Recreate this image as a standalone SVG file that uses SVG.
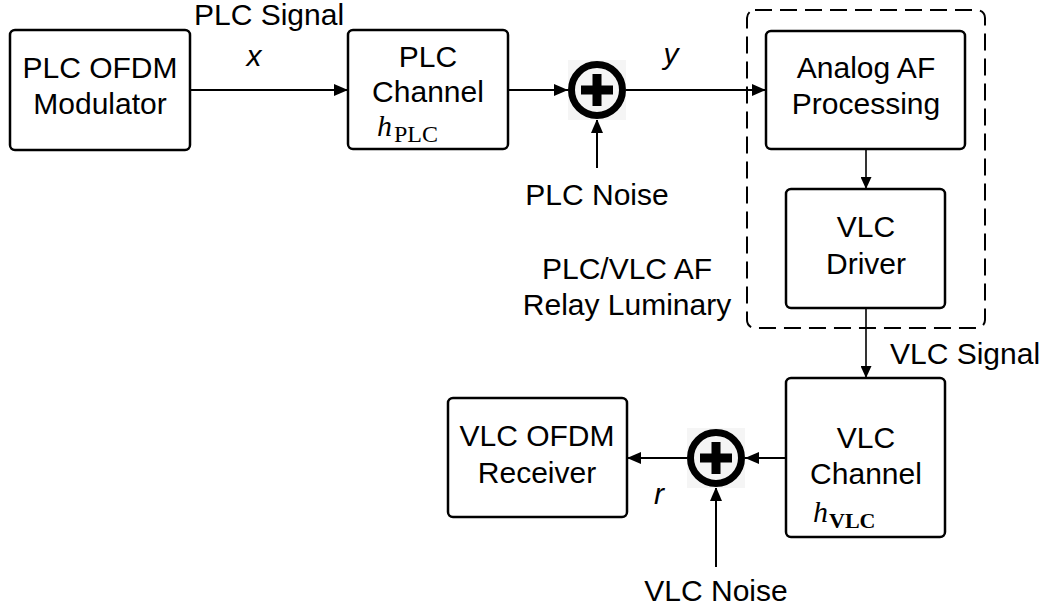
<svg xmlns="http://www.w3.org/2000/svg" width="1047" height="609" viewBox="0 0 1047 609">
<defs>
<marker id="ah" markerWidth="14" markerHeight="12" refX="14" refY="6" orient="auto" markerUnits="userSpaceOnUse">
<path d="M0,0 L14,6 L0,12 Z" fill="#000"/>
</marker>
<marker id="ahs" markerWidth="12" markerHeight="11" refX="12" refY="5.5" orient="auto" markerUnits="userSpaceOnUse">
<path d="M0,0 L12,5.5 L0,11 Z" fill="#000"/>
</marker>
</defs>
<style>
.box{fill:#fff;stroke:#000;stroke-width:2.5}
.t{font-family:"Liberation Sans",Arial,sans-serif;font-size:30px;fill:#000;text-anchor:middle}
.i{font-family:"Liberation Sans",Arial,sans-serif;font-size:30px;font-style:italic;fill:#000;text-anchor:middle}
.m{font-family:"Liberation Serif","Times New Roman",serif;fill:#000}
.c{stroke:#000;stroke-width:2;fill:none}
.sum{fill:none;stroke:#000;stroke-width:7}
.plus{fill:#000}
</style>
<rect width="1047" height="609" fill="#fff"/>

<g id="relay-group">
<rect x="747" y="10" width="238" height="318" rx="8" fill="none" stroke="#000" stroke-width="2" stroke-dasharray="17,8"/>
<text class="t" x="627" y="279">PLC/VLC AF</text>
<text class="t" x="627" y="315">Relay Luminary</text>
</g>

<g id="connectors">
<line class="c" x1="190" y1="90" x2="348" y2="90" marker-end="url(#ah)"/>
<line class="c" x1="508" y1="90" x2="568" y2="90" marker-end="url(#ah)"/>
<line class="c" x1="597" y1="168" x2="597" y2="119" marker-end="url(#ah)"/>
<line class="c" x1="626" y1="90" x2="766" y2="90" marker-end="url(#ah)"/>
<line x1="866" y1="149" x2="866" y2="189" stroke="#000" stroke-width="1.6" marker-end="url(#ahs)"/>
<line x1="866" y1="308" x2="866" y2="378" stroke="#000" stroke-width="1.6" marker-end="url(#ahs)"/>
<line class="c" x1="786" y1="458" x2="745" y2="458" marker-end="url(#ah)"/>
<line class="c" x1="687" y1="458" x2="627" y2="458" marker-end="url(#ah)"/>
<line class="c" x1="716" y1="567" x2="716" y2="487" marker-end="url(#ah)"/>
<text class="t" x="269" y="25">PLC Signal</text>
<text class="i" x="254" y="66">x</text>
<text class="i" x="671" y="64">y</text>
<text class="t" x="965" y="364">VLC Signal</text>
<text class="i" x="659" y="504">r</text>
</g>

<g id="plc-modulator">
<rect class="box" x="10" y="30" width="180" height="120" rx="5"/>
<text class="t" x="100" y="78">PLC OFDM</text>
<text class="t" x="100" y="114">Modulator</text>
</g>

<g id="plc-channel">
<rect class="box" x="348" y="30" width="160" height="119" rx="5"/>
<text class="t" x="428" y="67">PLC</text>
<text class="t" x="428" y="102">Channel</text>
<text class="m" x="377" y="136" font-size="30" font-style="italic">h</text>
<text class="m" x="394" y="142" font-size="24">PLC</text>
</g>

<g id="plc-sum">
<rect x="568" y="60" width="58" height="60" fill="#f5f5f5"/>
<circle class="sum" cx="597" cy="90" r="25.5"/>
<rect class="plus" x="581" y="85.5" width="32" height="9"/>
<rect class="plus" x="592.5" y="74" width="9" height="32"/>
</g>

<g id="plc-noise">
<text class="t" x="597" y="205">PLC Noise</text>
</g>

<g id="analog-af">
<rect class="box" x="766" y="31" width="199" height="118" rx="5"/>
<text class="t" x="866" y="78">Analog AF</text>
<text class="t" x="866" y="114">Processing</text>
</g>

<g id="vlc-driver">
<rect class="box" x="786" y="189" width="159" height="119" rx="5"/>
<text class="t" x="866" y="237">VLC</text>
<text class="t" x="866" y="274">Driver</text>
</g>

<g id="vlc-channel">
<rect class="box" x="786" y="378" width="159" height="159" rx="5"/>
<text class="t" x="866" y="448">VLC</text>
<text class="t" x="866" y="484">Channel</text>
<text class="m" x="813" y="522" font-size="30" font-style="italic">h</text>
<text class="m" x="829" y="528" font-size="22" font-weight="bold">VLC</text>
</g>

<g id="vlc-sum">
<rect x="687" y="428" width="58" height="60" fill="#f5f5f5"/>
<circle class="sum" cx="716" cy="458" r="25.5"/>
<rect class="plus" x="700" y="453.5" width="32" height="9"/>
<rect class="plus" x="711.5" y="442" width="9" height="32"/>
</g>

<g id="vlc-receiver">
<rect class="box" x="448" y="398" width="179" height="119" rx="5"/>
<text class="t" x="537" y="446">VLC OFDM</text>
<text class="t" x="537" y="483">Receiver</text>
</g>

<g id="vlc-noise">
<text class="t" x="716" y="601">VLC Noise</text>
</g>
</svg>
